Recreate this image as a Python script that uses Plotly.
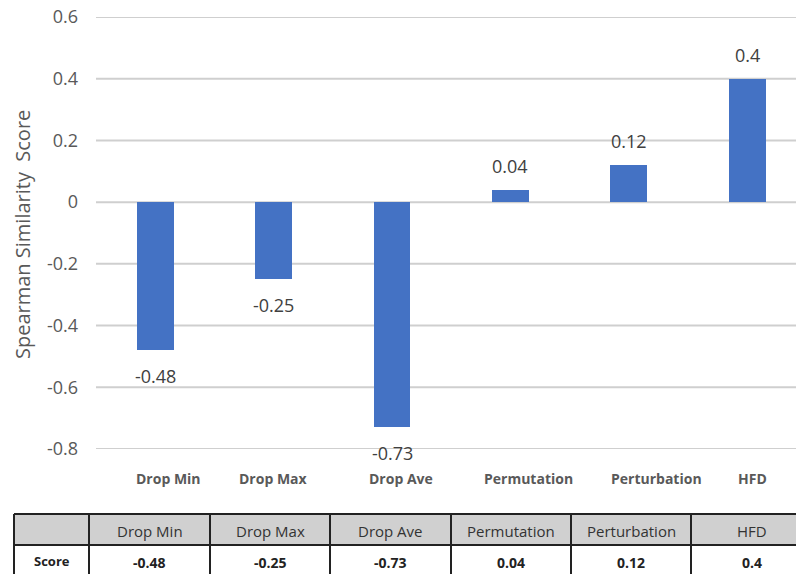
import plotly.graph_objects as go

# Methods and their Spearman similarity scores
methods = ["Drop Min", "Drop Max", "Drop Ave", "Permutation", "Perturbation", "HFD"]
scores = [-0.48, -0.25, -0.73, 0.04, 0.12, 0.4]
row_label = "Score"
y_ticks = [-0.8, -0.6, -0.4, -0.2, 0, 0.2, 0.4, 0.6]
y_tick_text = ["-0.8", "-0.6", "-0.4", "-0.2", "0", "0.2", "0.4", "0.6"]

W, H = 796, 574
FONT = "Open Sans"
BAR = "#4472C4"
GRID = "#cfcfcf"
TXT = "#595959"

def px(x):
    return x / W

def py(y):
    return 1 - y / H

# plot area in pixels
plot_left, plot_right, plot_top, plot_bottom = 96, 796, 17, 449
slot = 118.4  # pixel width of one category slot

fig = go.Figure()
fig.add_trace(go.Bar(
    x=list(range(len(methods))),
    y=scores,
    width=0.31,
    marker=dict(color=BAR, line=dict(width=0)),
    hoverinfo="x+y",
))

annotations = []
# value labels at the end of each bar
for i, v in enumerate(scores):
    annotations.append(dict(
        x=i, y=v, xref="x", yref="y",
        text=str(v), showarrow=False,
        xanchor="center", yanchor="middle",
        yshift=-26 if v < 0 else 24,
        font=dict(family=FONT, size=18, color="#404040"),
    ))

# category names under the plot area (small horizontal nudges per label)
label_nudge = [13, 0, 9, 18, 28, 5]
for i, name in enumerate(methods):
    annotations.append(dict(
        x=i, y=py(478), xref="x", yref="paper",
        text=f"<b>{name}</b>", showarrow=False,
        xshift=label_nudge[i], xanchor="center", yanchor="middle",
        font=dict(family=FONT, size=14, color=TXT),
    ))

# axis title
annotations.append(dict(
    x=px(22), y=py(235), xref="paper", yref="paper",
    text="Spearman Similarity  Score", showarrow=False, textangle=-90,
    xanchor="center", yanchor="middle",
    font=dict(family=FONT, size=20, color=TXT),
))

# horizontal gridlines, one per y tick, spanning the plot width
shapes = []
for t in y_ticks:
    shapes.append(dict(type="line", xref="paper", yref="y",
                       x0=px(plot_left), x1=1, y0=t, y1=t,
                       line=dict(color=GRID, width=2), layer="below"))

# data table below the chart
col_edges = [14, 89, 210, 330, 451, 571, 691, 812]
row_edges = [514, 545, 590]
shapes.append(dict(type="rect", xref="paper", yref="paper",
                   x0=px(col_edges[0]), x1=px(col_edges[-1]),
                   y0=py(row_edges[1]), y1=py(row_edges[0]),
                   fillcolor="#d0d0d0", line=dict(width=0), layer="below"))
for ye in row_edges:
    shapes.append(dict(type="line", xref="paper", yref="paper",
                       x0=px(col_edges[0]), x1=px(col_edges[-1]),
                       y0=py(ye), y1=py(ye),
                       line=dict(color="#222222", width=2)))
for xe in col_edges:
    shapes.append(dict(type="line", xref="paper", yref="paper",
                       x0=px(xe), x1=px(xe),
                       y0=py(row_edges[0]), y1=py(row_edges[-1]),
                       line=dict(color="#222222", width=2)))

header_y = py(531)
value_y = py(562)
for i, name in enumerate(methods):
    cx = (col_edges[i + 1] + col_edges[i + 2]) / 2
    annotations.append(dict(
        x=px(cx), y=header_y, xref="paper", yref="paper",
        text=name, showarrow=False, xanchor="center", yanchor="middle",
        font=dict(family=FONT, size=15, color="#333333"),
    ))
    annotations.append(dict(
        x=px(cx), y=value_y, xref="paper", yref="paper",
        text=f"<b>{scores[i]}</b>", showarrow=False,
        xanchor="center", yanchor="middle",
        font=dict(family=FONT, size=14, color="#222222"),
    ))
annotations.append(dict(
    x=px((col_edges[0] + col_edges[1]) / 2), y=py(561), xref="paper", yref="paper",
    text=f"<b>{row_label}</b>", showarrow=False, xanchor="center", yanchor="middle",
    font=dict(family=FONT, size=13, color="#222222"),
))

fig.update_layout(
    width=W, height=H,
    margin=dict(l=0, r=0, t=0, b=0, autoexpand=False),
    paper_bgcolor="white", plot_bgcolor="rgba(0,0,0,0)",
    showlegend=False,
    bargap=0,
    xaxis=dict(
        domain=[px(plot_left), px(plot_right)],
        range=[-0.5, -0.5 + (plot_right - plot_left) / slot],
        showticklabels=False, showgrid=False, zeroline=False,
        showline=False, ticks="", automargin=False,
    ),
    yaxis=dict(
        domain=[py(plot_bottom), py(plot_top)],
        range=[-0.8, 0.6],
        tickmode="array", tickvals=y_ticks, ticktext=y_tick_text,
        showgrid=False, zeroline=False,
        showline=False, ticks="", automargin=False,
        ticklabelstandoff=17,
        tickfont=dict(family=FONT, size=18, color=TXT),
    ),
    annotations=annotations,
    shapes=shapes,
)

fig.write_html("out.html")
